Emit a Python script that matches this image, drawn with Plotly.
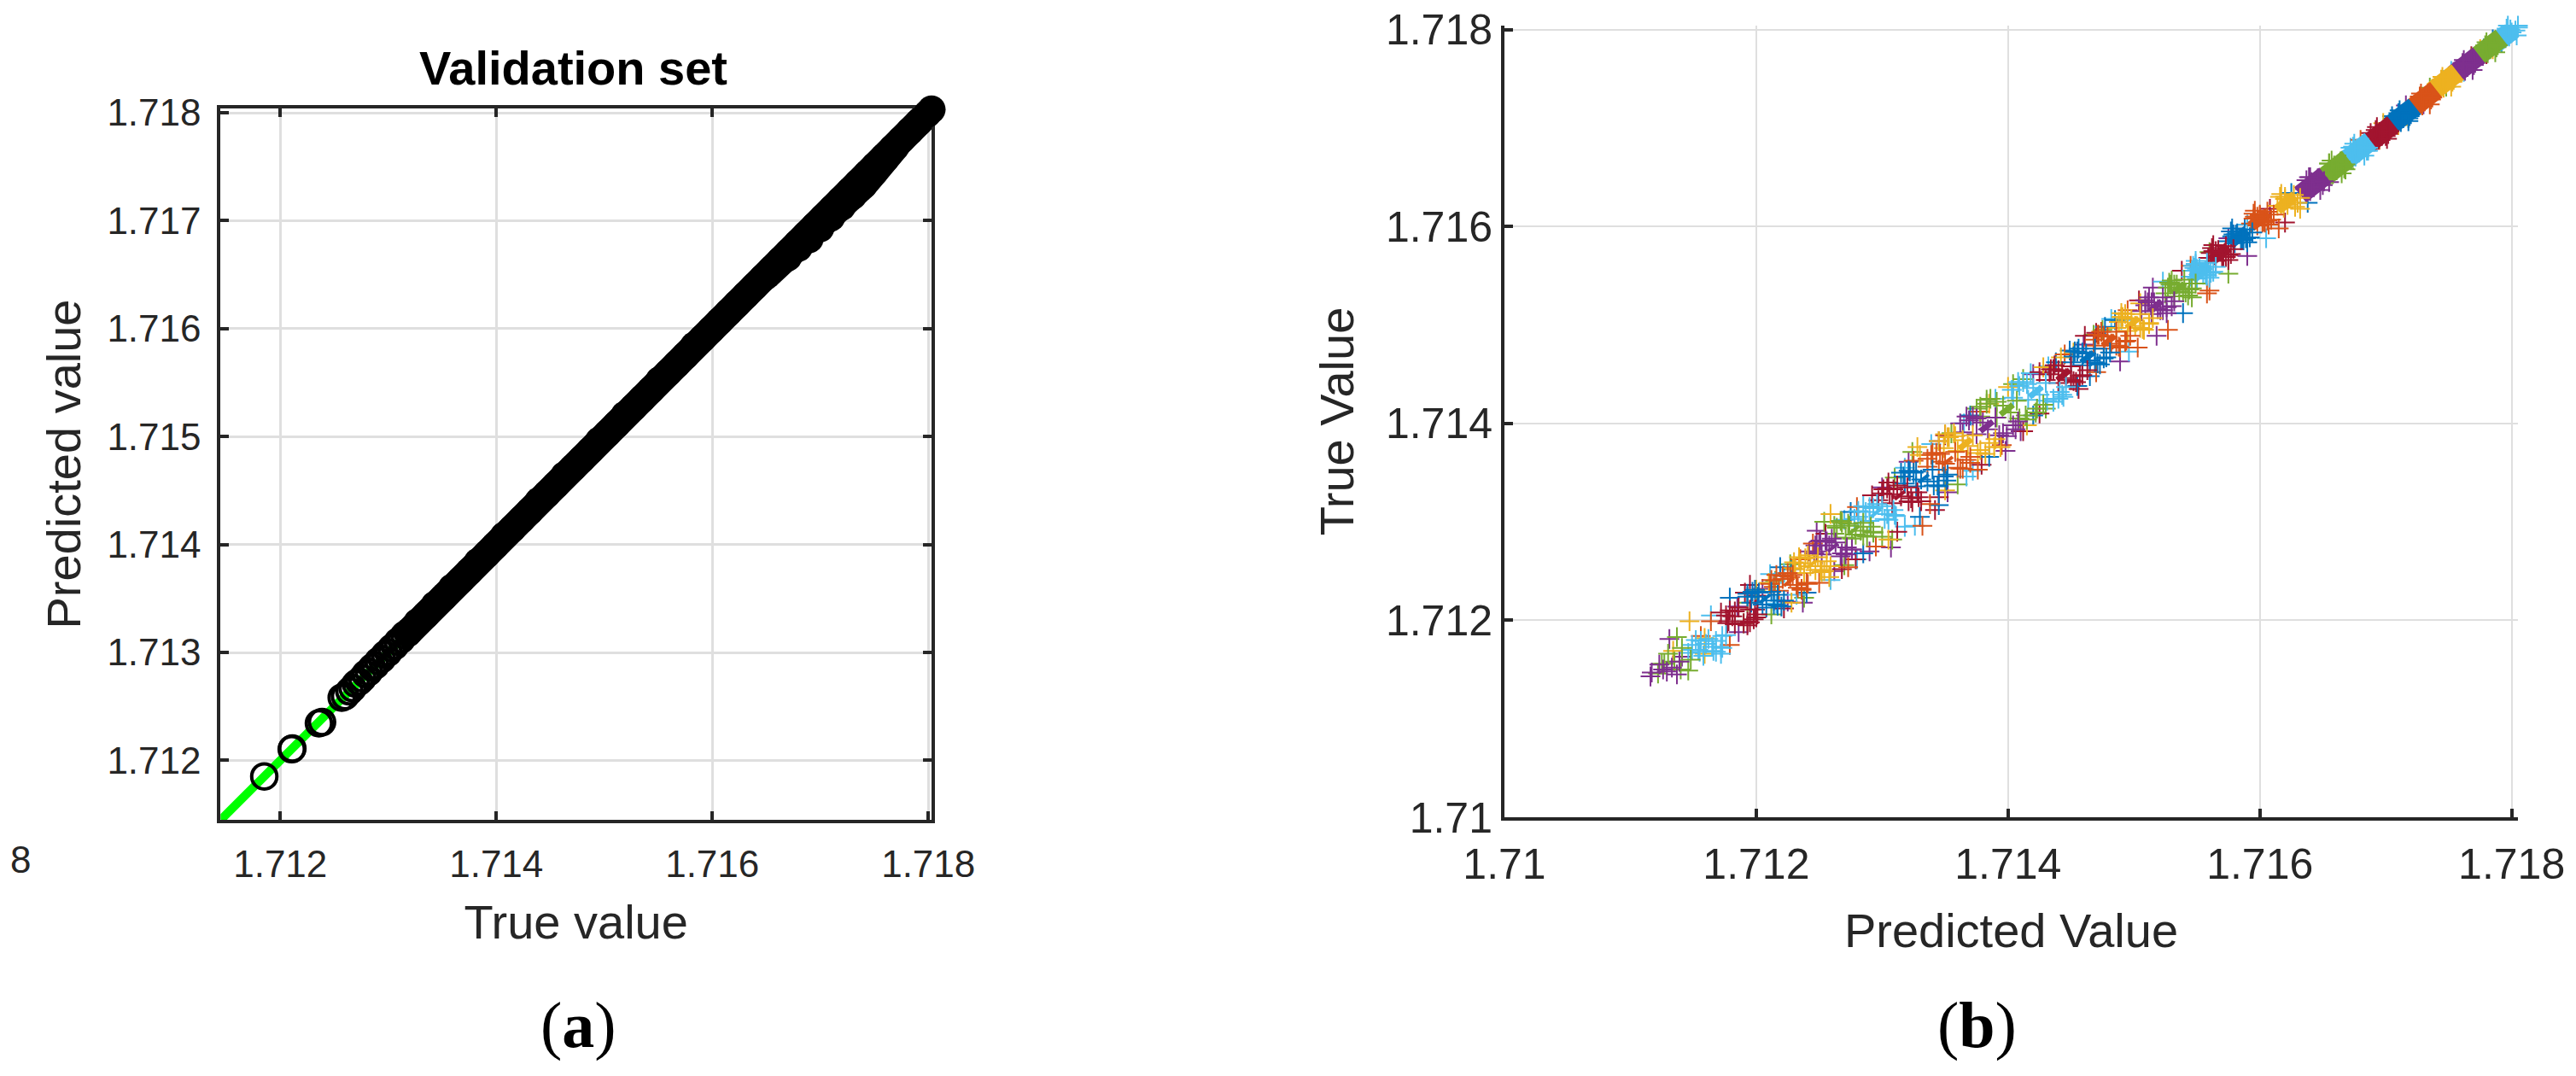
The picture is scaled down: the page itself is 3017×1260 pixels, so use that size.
import plotly.graph_objects as go

# all scatter values are written as 1e-5 units above 1.71
BASE = 1.71
UNIT = 1e-5

# (a) rings that can still be told apart, low end of the validation set
ring_true = [185.2, 210.6, 211.2, 235.8, 238.7, 256.9, 260, 264, 267, 270, 273, 276, 279, 282, 285, 288, 291, 294,
             297, 300, 303, 306, 309, 312, 315, 318]
ring_pred = [185.2, 210.4, 211.1, 234.4, 235.5, 258.2, 259.5, 264, 267, 271, 273, 276, 280, 282, 286, 288, 292, 294,
             298, 300, 304, 306, 310, 312, 316, 318]

# (a) solid part of the band
dense_true = [319, 327, 335, 343, 351, 359, 367, 375, 383, 391, 399, 407, 415, 423, 431, 439, 447, 455, 463, 471,
              479, 487, 495, 503, 511, 519, 527, 535, 543, 551, 559, 567, 575, 583, 591, 599, 607, 615, 623, 631,
              639, 647, 655, 663, 671, 679, 687, 695, 703, 711, 719, 727, 735, 743, 751, 759, 767, 775, 783, 791,
              799, 803]
dense_pred = [319, 328, 335, 344, 351, 360, 367, 375, 384, 391, 399, 408, 415, 423, 431, 440, 447, 455, 464, 471,
              479, 487, 496, 503, 511, 520, 527, 535, 543, 552, 559, 567, 575, 584, 591, 599, 607, 615, 623, 631,
              639, 647, 655, 663, 671, 679, 687, 695, 703, 711, 719, 727, 735, 743, 751, 759, 767, 775, 783, 791,
              799, 803]
# (a) the lower edge bulges out near 1.717
bulge_true = [650, 670, 680, 690, 700, 710, 720, 730, 740, 750, 760, 770]
bulge_pred = [649, 666, 675, 683, 693, 703, 713, 723, 733, 745, 757, 769]
fit_line = [145, 803]

# (b) one list per colour block, lowest block first
block_pred = [
    [116, 126, 137, 123, 139, 129, 117, 133],
    [122, 141, 127, 140, 146, 148, 135, 130],
    [154, 160, 168, 155, 162, 172, 165, 158, 146, 176, 152, 168, 156, 166, 149, 173],
    [178, 195, 183, 201, 172, 190, 186, 198, 181, 193, 179, 195, 183, 193, 176, 200],
    [196, 212, 220, 201, 205, 193, 214, 208, 199, 217, 197, 217, 202, 214, 193, 222],
    [214, 229, 236, 221, 240, 218, 225, 232, 211, 227, 216, 236, 221, 233, 212, 241],
    [231, 249, 238, 256, 243, 229, 252, 241, 235, 247, 234, 254, 239, 251, 230, 259],
    [248, 267, 255, 272, 260, 246, 263, 276, 252, 258, 251, 271, 256, 268, 247, 276],
    [262, 285, 271, 291, 279, 267, 283, 274, 293, 276, 268, 288, 273, 285, 264, 293],
    [281, 300, 290, 309, 296, 278, 304, 287, 293, 311, 285, 305, 290, 302, 281, 310],
    [297, 320, 308, 328, 315, 301, 323, 312, 331, 306, 304, 324, 309, 321, 300, 329],
    [318, 340, 327, 349, 336, 322, 344, 331, 352, 325, 321, 345, 327, 341, 317, 351],
    [336, 358, 345, 367, 350, 339, 362, 348, 370, 343, 340, 364, 346, 360, 336, 370],
    [349, 372, 360, 385, 368, 353, 378, 364, 390, 357, 350, 382, 358, 376, 345, 389],
    [364, 390, 375, 404, 384, 369, 396, 380, 408, 372, 367, 399, 375, 393, 362, 406],
    [378, 407, 391, 423, 402, 383, 414, 396, 428, 386, 383, 415, 391, 409, 378, 422],
    [404, 430, 416, 441, 425, 409, 436, 420, 446, 412, 408, 436, 415, 431, 403, 443],
    [430, 450, 440, 459, 446, 434, 454, 443, 463, 437, 436, 452, 440, 450, 433, 457],
    [450, 469, 459, 478, 465, 453, 473, 462, 481, 456, 455, 471, 459, 469, 452, 476],
    [468, 486, 476, 494, 482, 471, 489, 479, 497, 474, 472, 488, 476, 486, 469, 493],
    [486, 505, 495, 512, 501, 490, 508, 498, 515, 493, 491, 507, 495, 505, 488, 512],
    [506, 523, 514, 530, 519, 509, 526, 516, 532, 512, 511, 523, 514, 521, 509, 526],
    [525, 540, 532, 546, 536, 528, 543, 534, 549, 530, 529, 541, 532, 539, 527, 544],
    [545, 558, 550, 563, 555, 547, 560, 552, 565, 549, 548, 558, 550, 557, 546, 561],
    [559, 573, 565, 577, 570, 562, 575, 567, 579, 563, 563, 573, 565, 571, 561, 575],
    [575, 588, 580, 592, 585, 577, 590, 582, 594, 578, 579, 587, 581, 586, 578, 589],
    [593, 606, 598, 609, 602, 595, 607, 600, 611, 596, 596, 604, 598, 603, 595, 606],
    [614, 627, 619, 630, 622, 616, 628, 620, 632, 617],
    [636, 646, 640, 650, 643, 637, 648, 641, 651, 639],
    [654, 664, 658, 667, 661, 655, 665, 659, 668, 657],
    [673, 682, 676, 685, 679, 674, 683, 677, 686, 675],
    [691, 700, 694, 702, 697, 692, 701, 695, 703, 693],
    [709, 717, 712, 719, 714, 710, 718, 713, 720, 711],
    [726, 734, 729, 736, 731, 727, 735, 730, 737, 728],
    [743, 751, 746, 753, 748, 744, 752, 747, 754, 745],
    [760, 768, 763, 770, 765, 761, 769, 764, 771, 762],
    [778, 786, 781, 788, 783, 779, 787, 782, 789, 780],
    [795, 805, 798, 803, 800, 796, 804, 799, 805, 797],
]
block_true = [
    [143, 150, 145, 155, 158, 148, 147, 152],
    [146, 172, 156, 150, 149, 160, 158, 166],
    [170, 176, 179, 168, 181, 166, 173, 164, 167, 185, 180, 168, 179, 169, 175, 172],
    [199, 211, 196, 206, 208, 197, 213, 201, 204, 195, 210, 198, 209, 199, 205, 203],
    [218, 229, 214, 224, 216, 227, 220, 213, 231, 226, 229, 215, 228, 216, 224, 220],
    [234, 246, 231, 242, 238, 230, 248, 236, 237, 244, 246, 232, 245, 233, 241, 237],
    [252, 264, 248, 260, 255, 253, 249, 266, 258, 251, 264, 250, 263, 251, 259, 255],
    [270, 265, 281, 274, 283, 268, 279, 272, 267, 276, 281, 267, 280, 268, 276, 272],
    [288, 299, 284, 295, 287, 301, 291, 296, 289, 283, 299, 285, 298, 286, 294, 290],
    [305, 316, 301, 312, 318, 303, 308, 310, 314, 306, 316, 302, 315, 303, 311, 307],
    [322, 335, 319, 330, 326, 333, 324, 337, 321, 328, 334, 320, 333, 321, 329, 325],
    [339, 353, 336, 346, 341, 351, 337, 343, 348, 350, 352, 336, 351, 337, 346, 342],
    [356, 371, 353, 363, 359, 368, 354, 361, 366, 370, 370, 354, 369, 355, 364, 360],
    [375, 388, 372, 380, 377, 386, 373, 383, 384, 390, 389, 369, 387, 370, 382, 376],
    [391, 406, 389, 398, 394, 403, 390, 401, 402, 407, 407, 387, 405, 388, 400, 394],
    [407, 423, 406, 415, 411, 420, 408, 418, 419, 425, 424, 404, 422, 405, 417, 411],
    [426, 441, 424, 432, 429, 438, 425, 436, 437, 442, 442, 422, 440, 423, 434, 429],
    [444, 458, 441, 449, 446, 455, 442, 453, 454, 459, 455, 443, 454, 444, 450, 448],
    [462, 476, 459, 467, 464, 473, 460, 471, 472, 476, 473, 461, 472, 462, 468, 466],
    [479, 493, 476, 484, 481, 490, 477, 488, 489, 493, 490, 478, 489, 479, 485, 483],
    [497, 511, 494, 502, 499, 508, 495, 506, 507, 511, 508, 496, 507, 497, 503, 501],
    [514, 528, 511, 519, 516, 525, 512, 523, 524, 528, 523, 515, 523, 515, 520, 518],
    [532, 546, 529, 537, 534, 543, 530, 541, 542, 545, 541, 533, 541, 533, 538, 536],
    [549, 563, 547, 554, 551, 560, 548, 558, 559, 562, 558, 550, 557, 551, 555, 553],
    [568, 580, 565, 572, 569, 578, 566, 576, 577, 581, 575, 569, 575, 569, 573, 571],
    [585, 597, 583, 589, 586, 595, 584, 593, 594, 598, 592, 586, 592, 587, 590, 588],
    [603, 615, 601, 607, 604, 613, 602, 611, 612, 616, 610, 604, 610, 605, 608, 606],
    [621, 632, 619, 624, 622, 630, 620, 628, 629, 633],
    [638, 649, 636, 642, 640, 647, 637, 645, 646, 650],
    [655, 666, 653, 659, 657, 664, 654, 662, 663, 667],
    [673, 683, 671, 677, 675, 681, 672, 679, 680, 684],
    [690, 700, 688, 694, 692, 698, 689, 696, 697, 701],
    [708, 717, 706, 712, 710, 715, 707, 713, 714, 718],
    [725, 734, 723, 729, 727, 732, 724, 730, 731, 735],
    [743, 751, 741, 747, 745, 749, 742, 748, 749, 752],
    [760, 768, 758, 764, 762, 766, 759, 765, 766, 769],
    [778, 786, 776, 782, 780, 784, 777, 783, 784, 787],
    [795, 804, 793, 799, 797, 801, 794, 800, 802, 804],
]
# (b) middle of each block, where the crosses merge into a solid patch
center_pred = [125, 142, 160, 187, 207, 226, 244, 261, 278, 295, 314, 333, 352, 366, 383, 399, 422, 444, 463, 480,
               499, 517, 535, 553, 568, 583, 600, 621, 642, 660, 678, 696, 713, 730, 747, 764, 782, 796]
center_true = [152, 169, 174, 204, 222, 239, 257, 274, 292, 309, 327, 344, 362, 379, 397, 414, 432, 449, 467, 484,
               502, 519, 537, 554, 572, 589, 607, 624, 642, 659, 677, 694, 712, 729, 747, 764, 782, 795]
block_colors = ["#7E2F8E", "#77AC30", "#4DBEEE", "#A2142F", "#0072BD", "#D95319", "#EDB120"]

# (b) loose crosses away from the middle of the band, one list per colour in block_colors order
loose_pred = [
    [131, 141, 186, 185, 237, 242, 248, 307, 321, 398, 489, 518, 515, 225, 262, 290, 352, 410, 205, 250, 300, 345, 420,
     460, 575, 640, 716, 590, 655, 730],
    [137, 125, 190, 193, 227, 238, 254, 308, 324, 375, 404, 468, 546, 212, 270, 300, 360, 430, 215, 262, 310, 355, 412,
     475, 560, 655, 735, 575, 668, 748],
    [149, 164, 172, 173, 211, 214, 216, 259, 326, 339, 390, 367, 418, 444, 482, 496, 523, 549, 232, 280, 318, 372, 440,
     222, 270, 318, 365, 432, 490, 590, 672, 752, 605, 686, 762],
    [177, 195, 191, 199, 292, 342, 279, 379, 412, 461, 456, 504, 538, 222, 268, 312, 345, 425, 200, 255, 305, 350, 425,
     470, 608, 688, 768, 620, 700, 780],
    [179, 219, 345, 420, 449, 465, 477, 539, 240, 285, 330, 385, 455, 228, 275, 315, 370, 438, 485, 625, 705, 785, 638,
     718, 792],
    [156, 164, 179, 245, 332, 273, 376, 503, 527, 560, 250, 295, 338, 395, 470, 235, 280, 325, 378, 445, 495, 545, 600,
     680, 558, 615, 695],
    [147, 134, 159, 159, 200, 259, 328, 352, 400, 394, 428, 442, 490, 228, 258, 305, 350, 415, 210, 268, 330, 385, 452,
     505, 620, 698, 775, 632, 710, 785],
]
loose_true = [
    [181, 163, 188, 214, 218, 270, 291, 274, 361, 372, 463, 489, 538, 219, 250, 270, 330, 392, 232, 280, 335, 382, 450,
     480, 588, 650, 723, 570, 645, 724],
    [183, 156, 197, 218, 257, 223, 300, 282, 371, 415, 440, 490, 528, 206, 256, 285, 338, 415, 240, 296, 345, 390, 445,
     495, 574, 664, 741, 552, 658, 742],
    [170, 205, 173, 184, 247, 238, 217, 241, 296, 379, 425, 346, 451, 427, 506, 473, 544, 565, 226, 262, 295, 352, 425,
     248, 302, 355, 400, 458, 505, 602, 680, 758, 588, 677, 757],
    [197, 236, 228, 211, 327, 312, 262, 358, 392, 489, 435, 525, 555, 212, 252, 290, 325, 410, 225, 288, 340, 388, 452,
     492, 618, 695, 773, 604, 692, 775],
    [223, 254, 317, 408, 474, 448, 498, 512, 228, 268, 305, 366, 438, 252, 310, 350, 408, 462, 505, 634, 712, 790, 624,
     710, 787],
    [184, 199, 175, 278, 296, 254, 353, 477, 495, 535, 238, 275, 318, 378, 452, 262, 315, 362, 412, 470, 515, 560, 612,
     688, 532, 598, 688],
    [199, 169, 166, 182, 231, 308, 376, 386, 437, 376, 457, 467, 512, 218, 244, 282, 332, 398, 238, 300, 368, 420, 472,
     522, 630, 705, 780, 618, 703, 780],
]

ticks_a_x = [1.712, 1.714, 1.716, 1.718]
ticks_a_y = [1.712, 1.713, 1.714, 1.715, 1.716, 1.717, 1.718]
ticks_b = [1.71, 1.712, 1.714, 1.716, 1.718]

W = 3017
H = 1260
PAGE_MARGIN = 8  # browser body margin round the plot
FIG_W = W - 2 * PAGE_MARGIN
FIG_H = H - 2 * PAGE_MARGIN
FONT = "Liberation Sans"
DARK = "#262626"
GRID = "#dfdfdf"


def vals(units):
    return [BASE + u * UNIT for u in units]


def fx(px):
    return (px - PAGE_MARGIN) / FIG_W


def fy(px):
    return 1 - (px - PAGE_MARGIN) / FIG_H


def axis_style(ticks, labels, size, grid_width, mirror, standoff):
    return dict(tickmode="array", tickvals=ticks, ticktext=labels, ticks="inside", ticklen=10, tickwidth=4,
                tickcolor=DARK, showline=True, linecolor=DARK, linewidth=4, mirror=mirror, showgrid=True,
                gridcolor=GRID, gridwidth=grid_width, zeroline=False, layer="below traces", automargin=False,
                ticklabelstandoff=standoff, ticklabeloverflow="allow",
                tickfont=dict(family=FONT, size=size, color=DARK))


def label(text, x, y, size, color=DARK, family=FONT):
    return dict(text=text, x=fx(x), y=fy(y), xref="paper", yref="paper", showarrow=False, xanchor="center",
                yanchor="middle", font=dict(family=family, size=size, color=color))


def crosses(xs, ys, color):
    return go.Scatter(x=vals(xs), y=vals(ys), mode="markers", xaxis="x2", yaxis="y2", cliponaxis=False,
                      marker=dict(symbol="cross-thin", size=16.5, color=color, line=dict(color=color, width=2)))


fig = go.Figure()

# (a)
fig.add_trace(go.Scatter(x=vals(fit_line), y=vals(fit_line), mode="lines", line=dict(color="#00ff00", width=10),
                         cliponaxis=False, xaxis="x", yaxis="y"))
fig.add_trace(go.Scatter(x=vals(ring_true), y=vals(ring_pred), mode="markers", cliponaxis=False, xaxis="x", yaxis="y",
                         marker=dict(symbol="circle-open", size=29.5, color="black",
                                     line=dict(color="black", width=4))))
for xs, ys in [(dense_true, dense_pred), (bulge_true, bulge_pred)]:
    fig.add_trace(go.Scatter(x=vals(xs), y=vals(ys), mode="lines+markers", cliponaxis=False, xaxis="x", yaxis="y",
                             line=dict(color="black", width=33),
                             marker=dict(symbol="circle", size=33, color="black", line=dict(width=0))))

# (b) loose crosses go underneath
for c in range(len(block_colors)):
    fig.add_trace(crosses(loose_pred[c], loose_true[c], block_colors[c]))

# (b) drawn top block first, lower blocks sit over the upper ones
for i in range(len(block_pred) - 1, -1, -1):
    color = block_colors[i % len(block_colors)]
    if i >= 28:
        half, core = 10, 23
    elif i >= 23:
        half, core = 7, 13
    elif i >= 13:
        half, core = 5, 7
    elif i >= 4:
        half, core = 4, 4
    else:
        half, core = 0, 0
    if core:
        fig.add_trace(go.Scatter(x=vals([center_pred[i] - half, center_pred[i] + half]),
                                 y=vals([center_true[i] - half, center_true[i] + half]), mode="lines",
                                 line=dict(color=color, width=core), xaxis="x2", yaxis="y2", cliponaxis=False))
    fig.add_trace(crosses(block_pred[i], block_true[i], color))

labels_b = ["1.71", "1.712", "1.714", "1.716", "1.718"]
fig.update_layout(
    width=FIG_W, height=FIG_H, autosize=False, showlegend=False, plot_bgcolor="white", paper_bgcolor="white",
    margin=dict(l=0, r=0, t=0, b=0),
    xaxis=dict(domain=[fx(258.3), fx(1091)], range=[1.711447, 1.71803], anchor="y",
               title=dict(text="True value", font=dict(family=FONT, size=56, color=DARK), standoff=26),
               **axis_style(ticks_a_x, ["%.3f" % t for t in ticks_a_x], 44, 3, "ticks", 10)),
    yaxis=dict(domain=[fy(960), fy(127)], range=[1.71145, 1.71804], anchor="x",
               title=dict(text="Predicted value", font=dict(family=FONT, size=56, color=DARK), standoff=14),
               **axis_style(ticks_a_y, ["%.3f" % t for t in ticks_a_y], 44, 3, "ticks", 10)),
    xaxis2=dict(domain=[fx(1762), fx(2949)], range=[1.71, 1.71805], anchor="y2",
                title=dict(text="Predicted Value", font=dict(family=FONT, size=56, color=DARK), standoff=32),
                **axis_style(ticks_b, labels_b, 50, 2, False, 8)),
    yaxis2=dict(domain=[fy(957), fy(30)], range=[1.71, 1.71804], anchor="x2",
                title=dict(text="True Value", font=dict(family=FONT, size=56, color=DARK), standoff=20),
                **axis_style(ticks_b, labels_b, 50, 2, False, 0)),
    annotations=[
        label("<b>Validation set</b>", 671, 80, 56, color="black"),
        label("8", 24, 1006, 44),
        label("(<b>a</b>)", 677, 1200, 76, color="black", family="Liberation Serif"),
        label("(<b>b</b>)", 2315, 1200, 76, color="black", family="Liberation Serif"),
    ],
)

fig.write_html("out.html")
